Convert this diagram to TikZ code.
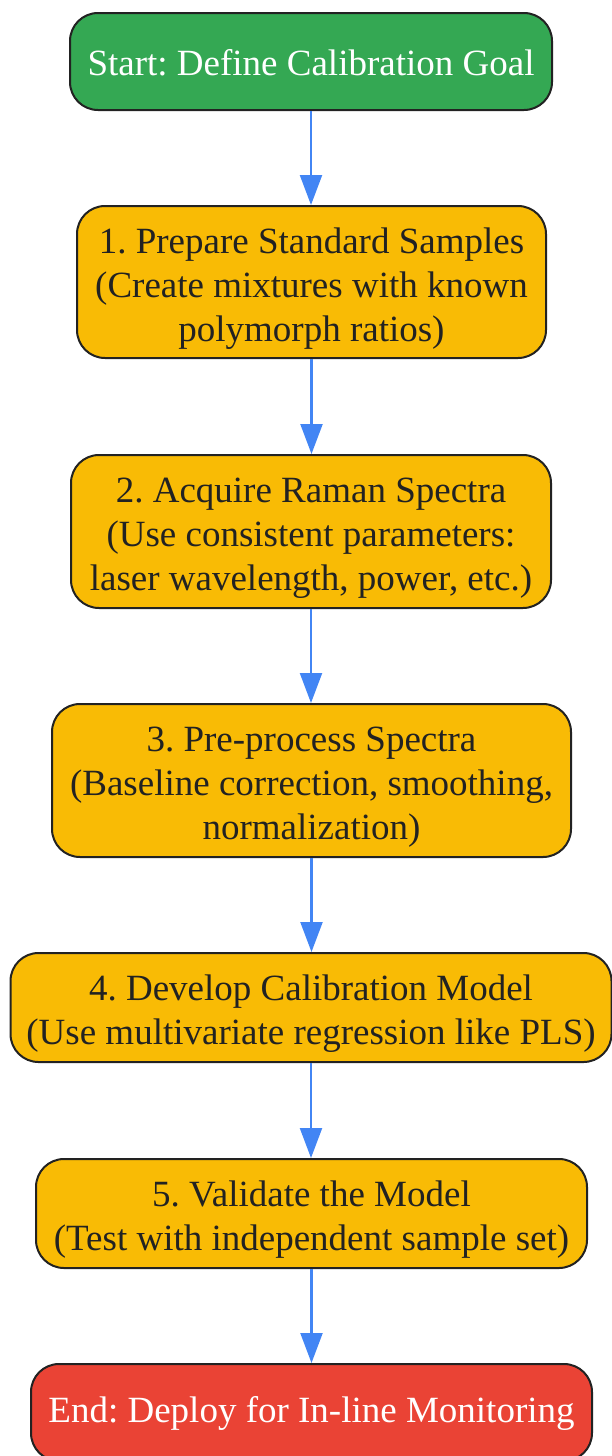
\documentclass[tikz,border=0pt]{standalone}
\usepackage{fontspec}
\setmainfont{Liberation Serif}
\usetikzlibrary{arrows.meta}
\definecolor{gfill}{HTML}{34A853}
\definecolor{ofill}{HTML}{F9BB05}
\definecolor{rfill}{HTML}{EA4335}
\definecolor{edge}{HTML}{222222}
\definecolor{arr}{HTML}{4285F4}
\newcommand{\upstrut}{\rule{0pt}{38pt}}
\newcommand{\onestrut}{\rule{0pt}{28pt}}
\begin{document}
\frenchspacing
\begin{tikzpicture}[x=1pt,y=-1pt,
  box/.style={draw=edge, line width=2pt, rounded corners=28pt, align=center, inner sep=0pt,
    font=\fontsize{37}{44}\selectfont, text=edge, fill=ofill},
  startbox/.style={box, fill=gfill, text=white},
  endbox/.style={box, fill=rfill, text=white},
  flow/.style={draw=arr, line width=2.2pt, -{Triangle[length=30pt,width=22pt]}}]
\useasboundingbox (0,0) rectangle (612,1456);
\node[startbox, minimum width=482pt, minimum height=97pt] (s) at (311,61.5) {\onestrut Start: Define Calibration Goal};
\node[box, minimum width=469pt, minimum height=152pt] (n1) at (311.5,282) {\upstrut 1. Prepare Standard Samples\\(Create mixtures with known\\polymorph ratios)};
\node[box, minimum width=480pt, minimum height=153pt] (n2) at (311,531.5) {\upstrut 2. Acquire Raman Spectra\\(Use consistent parameters:\\laser wavelength, power, etc.)};
\node[box, minimum width=519pt, minimum height=153pt] (n3) at (311.5,780.5) {\upstrut 3. Pre-process Spectra\\(Baseline correction, smoothing,\\normalization)};
\node[box, minimum width=601pt, minimum height=109pt] (n4) at (311,1007.5) {\upstrut 4. Develop Calibration Model\\(Use multivariate regression like PLS)};
\node[box, minimum width=551pt, minimum height=109pt] (n5) at (311.5,1213.5) {\upstrut 5. Validate the Model\\(Test with independent sample set)};
\node[endbox, minimum width=561pt, minimum height=97pt] (e) at (311.5,1412.5) {\onestrut End: Deploy for In-line Monitoring};
\foreach \a/\b in {s/n1,n1/n2,n2/n3,n3/n4,n4/n5,n5/e}
  \draw[flow] (\a.south) -- (\a.south |- \b.north);
\end{tikzpicture}
\end{document}
